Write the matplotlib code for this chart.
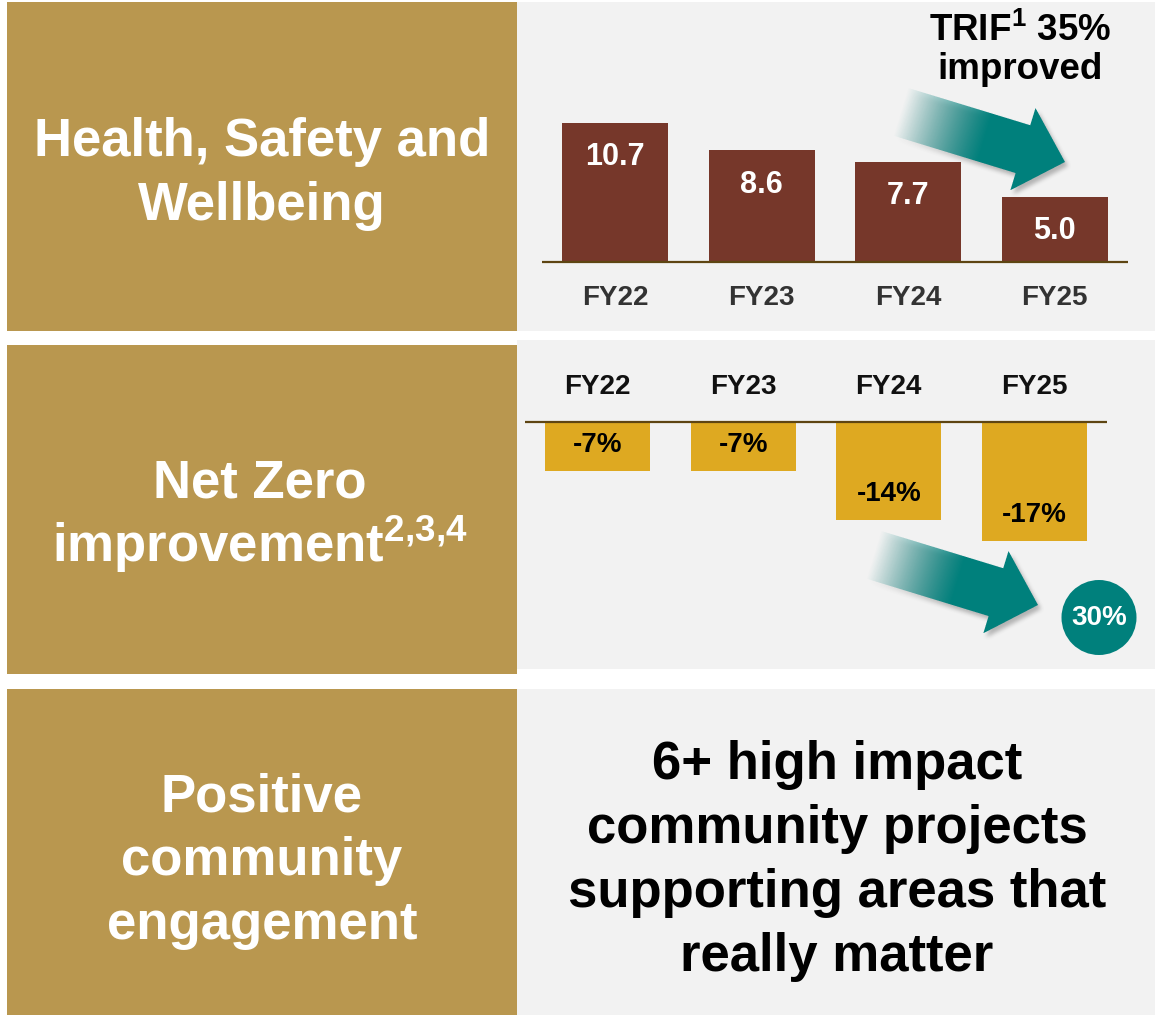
import numpy as np
import matplotlib
matplotlib.use("Agg")
import matplotlib.pyplot as plt
from matplotlib.patches import Rectangle, Circle
from matplotlib.path import Path

# ── Data ────────────────────────────────────────────────────────────────────
years = ["FY22", "FY23", "FY24", "FY25"]
trif = [10.7, 8.6, 7.7, 5.0]
net_zero = [-7, -7, -14, -17]
net_zero_total = "30%"
trif_note = ["TRIF$^{1}$ 35%", "improved"]

hs_title = ["Health, Safety and", "Wellbeing"]
nz_title = ["Net Zero", "improvement$^{2{,}3{,}4}$"]
comm_title = ["Positive", "community", "engagement"]
comm_text = ["6+ high impact", "community projects",
             "supporting areas that", "really matter"]

# ── Style ───────────────────────────────────────────────────────────────────
GOLD = "#B9974F"
PANEL = "#F2F2F2"
BROWN = "#76372A"
AMBER = "#DEA921"
TEAL = "#00807C"
BASE = "#5E4512"

W, H = 1155, 1015

plt.rcParams["font.family"] = ["Liberation Sans", "DejaVu Sans"]
plt.rcParams["font.weight"] = "bold"
plt.rcParams["mathtext.fontset"] = "custom"
plt.rcParams["mathtext.rm"] = "Liberation Sans:bold"
plt.rcParams["mathtext.bf"] = "Liberation Sans:bold"


def px_box(x0, y0, x1, y1):
    return [x0 / W, 1 - y1 / H, (x1 - x0) / W, (y1 - y0) / H]


def text_lines(ax, x, y0, step, lines, **kw):
    for i, t in enumerate(lines):
        ax.text(x, y0 + i * step, t, ha="center", va="baseline", **kw)


def box_blur(a, r):
    k = np.ones(2 * r + 1) / (2 * r + 1)
    for _ in range(2):
        a = np.apply_along_axis(lambda m: np.convolve(m, k, mode="same"), 0, a)
        a = np.apply_along_axis(lambda m: np.convolve(m, k, mode="same"), 1, a)
    return a


def gradient_arrow(ax, tip, ang=17, length=172, shaft=25, head=43, head_len=44,
                   fade=(0, 88)):
    a = np.radians(ang)
    d = np.array([np.cos(a), np.sin(a)])
    n = np.array([-np.sin(a), np.cos(a)])
    tip = np.asarray(tip, float)
    tail = tip - d * length
    L, hl = length, head_len
    local = [(0, -shaft), (L - hl, -shaft), (L - hl, -head), (L, 0),
             (L - hl, head), (L - hl, shaft), (0, shaft)]
    pts = np.array([tail + u * d + v * n for u, v in local])
    path = Path(np.vstack([pts, pts[:1]]), closed=True)

    pad = 10
    x0, y0 = np.floor(pts.min(0)) - pad
    x1, y1 = np.ceil(pts.max(0)) + pad
    nx, ny = int(x1 - x0), int(y1 - y0)
    ss = 4
    gx = x0 + (np.arange(nx * ss) + 0.5) / ss
    gy = y0 + (np.arange(ny * ss) + 0.5) / ss
    XX, YY = np.meshgrid(gx, gy)
    inside = path.contains_points(np.c_[XX.ravel(), YY.ravel()])
    mask = inside.reshape(ny * ss, nx * ss).astype(float)
    mask = mask.reshape(ny, ss, nx, ss).mean(axis=(1, 3))

    cx = x0 + np.arange(nx) + 0.5
    cy = y0 + np.arange(ny) + 0.5
    CX, CY = np.meshgrid(cx, cy)
    u = (CX - tail[0]) * d[0] + (CY - tail[1]) * d[1]
    grad = np.clip((u - fade[0]) / (fade[1] - fade[0]), 0, 1)
    alpha = mask * grad

    # soft drop shadow
    shadow = box_blur(alpha, 2)
    img_s = np.zeros((ny, nx, 4))
    img_s[..., :3] = 0.25
    img_s[..., 3] = np.clip(shadow * 0.35, 0, 1)
    ax.imshow(img_s, extent=(x0 + 3, x1 + 3, y1 + 4, y0 + 4), origin="upper",
              interpolation="bilinear", aspect="auto", zorder=3)

    img = np.zeros((ny, nx, 4))
    img[..., :3] = matplotlib.colors.to_rgb(TEAL)
    img[..., 3] = alpha
    ax.imshow(img, extent=(x0, x1, y1, y0), origin="upper",
              interpolation="bilinear", aspect="auto", zorder=4)


fig = plt.figure(figsize=(W / 100, H / 100), dpi=100)
fig.patch.set_facecolor("white")

# ── Background, panels and free text (pixel coordinates) ───────────────────
bg = fig.add_axes([0, 0, 1, 1])
bg.axis("off")

for (x0, y0, x1, y1) in [(7, 2, 517, 331), (7, 345, 517, 674), (7, 689, 517, 1015)]:
    bg.add_patch(Rectangle((x0, y0), x1 - x0, y1 - y0, color=GOLD, lw=0, zorder=1))
for (x0, y0, x1, y1) in [(517, 2, 1155, 331), (517, 340, 1155, 669), (517, 689, 1155, 1015)]:
    bg.add_patch(Rectangle((x0, y0), x1 - x0, y1 - y0, color=PANEL, lw=0, zorder=1))

big = dict(fontsize=38, fontweight="bold", zorder=5)
text_lines(bg, 262, 156, 64, hs_title, color="white", **big)
text_lines(bg, 260, 498, 64, nz_title, color="white", **big)
text_lines(bg, 262, 811, 64, comm_title, color="white", **big)
text_lines(bg, 837, 779, 64, comm_text, color="black", **big)

text_lines(bg, 1020, 41, 38, trif_note, color="black", fontsize=26.5,
           fontweight="bold", zorder=5)

gradient_arrow(bg, (1065, 162))
gradient_arrow(bg, (1038, 605))

bg.add_patch(Circle((1099, 617.5), 37.5, color=TEAL, lw=0, zorder=4))
bg.text(1099, 618, net_zero_total, ha="center", va="center", color="white",
        fontsize=20, fontweight="bold", zorder=5)

bg.set_xlim(0, W)
bg.set_ylim(H, 0)

# ── TRIF bar chart ──────────────────────────────────────────────────────────
x = np.arange(len(years))
k1 = 13.0  # px per unit
ax1 = fig.add_axes(px_box(542, 2, 1128, 331))
ax1.patch.set_visible(False)
ax1.axis("off")
ax1.set_xlim(-0.5, 3.5)
ax1.set_ylim((262 - 331) / k1, (262 - 2) / k1)
ax1.bar(x, trif, width=0.725, color=BROWN, zorder=2)
ax1.axhline(0, color=BASE, lw=1.6, zorder=3)
for xi, v, yr in zip(x, trif, years):
    ax1.text(xi, v - 2.65, f"{v:.1f}", ha="center", va="center", color="white",
             fontsize=22, fontweight="bold", zorder=4)
    ax1.text(xi, -36 / k1, yr, ha="center", va="center", color="#333333",
             fontsize=20, fontweight="bold")

# ── Net Zero bar chart ──────────────────────────────────────────────────────
k2 = 7.0
ax2 = fig.add_axes(px_box(525, 340, 1107, 669))
ax2.patch.set_visible(False)
ax2.axis("off")
ax2.set_xlim(-0.5, 3.5)
ax2.set_ylim((422 - 669) / k2, (422 - 340) / k2)
ax2.bar(x, net_zero, width=0.72, color=AMBER, zorder=2)
ax2.axhline(0, color=BASE, lw=1.6, zorder=3)
for xi, v, yr in zip(x, net_zero, years):
    ax2.text(xi, v + 3.7, f"{v:d}%", ha="center", va="center", color="black",
             fontsize=20, fontweight="bold", zorder=4)
    ax2.text(xi, 35 / k2, yr, ha="center", va="center", color="#111111",
             fontsize=20, fontweight="bold")

fig.savefig("out.png", dpi=100, facecolor="white")
